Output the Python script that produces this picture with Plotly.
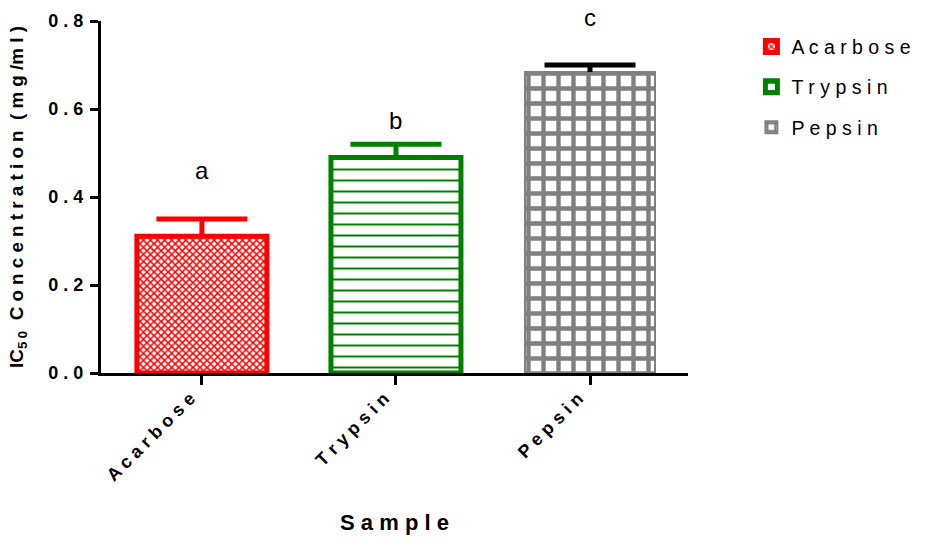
import plotly.graph_objects as go

# IC50 values (mg/ml) with upper SEM
samples = ["Acarbose", "Trypsin", "Pepsin"]
ic50 = [0.311, 0.490, 0.684]
sem = [0.039, 0.030, 0.016]
group_letters = ["a", "b", "c"]
y_ticks = [0.0, 0.2, 0.4, 0.6, 0.8]

bar_colors = ["#FF0000", "#008000", "#808080"]
err_colors = ["#FF0000", "#008000", "#000000"]
patterns = [
    dict(shape="x", size=5, solidity=0.5),
    dict(shape="-", size=11, solidity=0.18),
    dict(shape="+", size=15, solidity=0.5),
]
outline_widths = [5, 5, 2]
letter_shift = [49, 24, 48]   # px above the error-bar cap

FONT = "Arial, 'Liberation Sans', Helvetica, sans-serif"
NB = "\u00a0"


def spaced(text):
    """Letter-spaced label text."""
    return " ".join(text)


fig = go.Figure()
for i, name in enumerate(samples):
    fig.add_trace(go.Bar(
        x=[name],
        y=[ic50[i]],
        name=spaced(name),
        legendgroup=name,
        width=0.67,
        marker=dict(
            color=bar_colors[i],
            line=dict(color=bar_colors[i], width=outline_widths[i]),
            pattern=dict(fgcolor=bar_colors[i], bgcolor="white",
                         fillmode="replace", **patterns[i]),
        ),
        # stem only; the cap is drawn by the marker trace below
        error_y=dict(type="data", symmetric=False, array=[sem[i]],
                     arrayminus=[0], color=err_colors[i],
                     thickness=5, width=0),
    ))

# error-bar caps
tops = [v + e for v, e in zip(ic50, sem)]
fig.add_trace(go.Scatter(
    x=samples, y=tops, mode="markers", showlegend=False, hoverinfo="skip",
    marker=dict(symbol="line-ew", size=65, color=err_colors,
                line=dict(color=err_colors, width=5)),
    cliponaxis=False,
))

for i, name in enumerate(samples):
    fig.add_annotation(x=name, y=tops[i], yshift=letter_shift[i],
                       yanchor="middle", text=group_letters[i],
                       showarrow=False,
                       font=dict(size=24, color="black", family=FONT))

fig.update_layout(
    width=928, height=539,
    margin=dict(l=101, r=240, t=21, b=166),
    paper_bgcolor="white", plot_bgcolor="white",
    font=dict(family=FONT, color="black"),
    showlegend=True,
    legend=dict(
        x=1.108, y=0.982, xanchor="left", yanchor="top",
        font=dict(size=19.5, color="black"),
        traceorder="grouped", tracegroupgap=12,
        bgcolor="rgba(0,0,0,0)",
    ),
)

fig.update_xaxes(
    range=[-0.52, 2.505], automargin=False,
    tickvals=samples, ticktext=[spaced(s) for s in samples],
    tickangle=-45,
    tickfont=dict(size=18, family=FONT, weight="bold"),
    ticklabelshift=-12, ticklabelstandoff=-4,
    ticks="outside", ticklen=9, tickwidth=3, tickcolor="black",
    showline=True, linewidth=3, linecolor="black",
    showgrid=False, zeroline=False,
    title=dict(text=spaced("Sample"), standoff=31,
               font=dict(size=22, family=FONT, weight="bold")),
)

fig.update_yaxes(
    range=[0, 0.8], automargin=False,
    tickvals=y_ticks, ticktext=[spaced(f"{v:.1f}") for v in y_ticks],
    tickfont=dict(size=18, family=FONT, weight="bold"),
    ticklabelstandoff=3,
    ticks="outside", ticklen=8, tickwidth=3, tickcolor="black",
    showline=True, linewidth=3, linecolor="black",
    showgrid=False, zeroline=False,
    title=dict(
        text="IC<sub>5" + NB + "0</sub>" + NB * 2 + spaced("Concentration")
             + NB * 2 + "( m g /m l )",
        standoff=20,
        font=dict(size=18.8, family=FONT, weight="bold"),
    ),
)

fig.write_html("out.html")
